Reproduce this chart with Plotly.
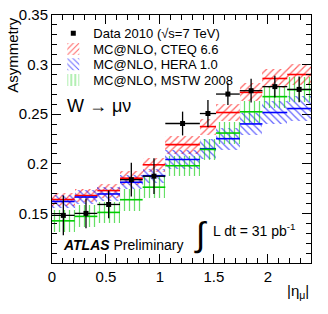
import plotly.graph_objects as go

# bin edges in |eta_mu|
edges = [0, 0.21, 0.42, 0.63, 0.84, 1.05, 1.37, 1.52, 1.74, 1.95, 2.18, 2.4]

data = [0.148, 0.150, 0.159, 0.184, 0.1875, 0.2406, 0.2507, 0.2703, 0.2737, 0.2778, 0.275]
data_err = [0.020, 0.015, 0.014, 0.017, 0.018, 0.012, 0.0135, 0.011, 0.012, 0.011, 0.013]

cteq = [0.164, 0.168, 0.173, 0.1855, 0.199, 0.2193, 0.2375, 0.2517, 0.272, 0.286, 0.290]
cteq_err = [0.007, 0.007, 0.007, 0.007, 0.007, 0.009, 0.008, 0.009, 0.009, 0.010, 0.0105]

hera = [0.162, 0.1665, 0.1696, 0.1814, 0.188, 0.2044, 0.2152, 0.2253, 0.2402, 0.2517, 0.2557]
hera_err = [0.007, 0.007, 0.007, 0.007, 0.007, 0.010, 0.010, 0.011, 0.011, 0.012, 0.0125]

mstw = [0.1425, 0.147, 0.151, 0.1638, 0.1764, 0.198, 0.2145, 0.231, 0.2524, 0.2677, 0.2747]
mstw_err = [0.011, 0.011, 0.011, 0.011, 0.011, 0.010, 0.011, 0.011, 0.011, 0.011, 0.0125]

centers = [(a + b) / 2 for a, b in zip(edges[:-1], edges[1:])]
widths = [b - a for a, b in zip(edges[:-1], edges[1:])]
halfw = [w / 2 for w in widths]

FONT = "Liberation Sans, Arial, sans-serif"

fig = go.Figure()

models = [
    ("MC@NLO, CTEQ 6.6", cteq, cteq_err, "#ff0000", "/", "legend2"),
    ("MC@NLO, HERA 1.0", hera, hera_err, "#0000ff", "\\", "legend3"),
    ("MC@NLO, MSTW 2008", mstw, mstw_err, "#00cc00", "|", "legend4"),
]

for name, vals, errs, col, shp, lg in models:
    fig.add_trace(go.Bar(
        x=centers, y=[2 * e for e in errs], base=[v - e for v, e in zip(vals, errs)],
        width=widths, name=name, legend=lg,
        marker=dict(color="rgba(0,0,0,0)", line=dict(width=0),
                    pattern=dict(shape=shp, fgcolor=col, fgopacity=0.6, size=5, solidity=0.25)),
        showlegend=True,
    ))

for name, vals, errs, col, shp, lg in models:
    fig.add_trace(go.Scatter(
        x=centers, y=vals, mode="markers", name=name, showlegend=False,
        marker=dict(size=0.1, color=col, opacity=0),
        error_x=dict(type="data", array=halfw, width=0, thickness=1.6, color=col),
    ))

fig.add_trace(go.Scatter(
    x=centers, y=data, mode="markers", name="Data 2010 (√s=7 TeV)", legend="legend",
    marker=dict(symbol="square", size=5, color="black"),
    error_x=dict(type="data", array=halfw, width=0, thickness=1.3, color="black"),
    error_y=dict(type="data", array=data_err, width=0, thickness=1.3, color="black"),
    showlegend=True,
))

leg_common = dict(x=0.005, xanchor="left", yanchor="middle", bgcolor="rgba(0,0,0,0)",
                  font=dict(size=13, family=FONT), itemwidth=30)

fig.update_layout(
    width=328, height=314,
    margin=dict(l=52, r=17, t=15, b=51, autoexpand=False),
    paper_bgcolor="white", plot_bgcolor="white",
    barmode="overlay", bargap=0,
    font=dict(family=FONT, size=15, color="black"),
    showlegend=True,
    legend=dict(y=0.926, **leg_common),
    legend2=dict(y=0.863, **leg_common),
    legend3=dict(y=0.801, **leg_common),
    legend4=dict(y=0.738, **leg_common),
)

fig.update_xaxes(range=[0, 2.4], tickvals=[0, 0.5, 1, 1.5, 2], ticktext=["0", "0.5", "1", "1.5", "2"],
                 ticks="inside", ticklen=9, tickcolor="black", showline=True, linecolor="black",
                 linewidth=1, mirror="ticks", showgrid=False, zeroline=False, automargin=False,
                 minor=dict(dtick=0.1, ticks="inside", ticklen=5, tickcolor="black"),
                 tickfont=dict(size=15))
fig.update_yaxes(range=[0.1, 0.35], tickvals=[0.15, 0.2, 0.25, 0.3, 0.35],
                 ticktext=["0.15", "0.2", "0.25", "0.3", "0.35"],
                 ticks="inside", ticklen=9, tickcolor="black", showline=True, linecolor="black",
                 linewidth=1, mirror="ticks", showgrid=False, zeroline=False, automargin=False,
                 minor=dict(dtick=0.01, ticks="inside", ticklen=5, tickcolor="black"),
                 tickfont=dict(size=15))

fig.add_annotation(text="Asymmetry", xref="paper", yref="paper", x=-0.155, y=1.0,
                   xanchor="center", yanchor="top", textangle=-90, showarrow=False,
                   font=dict(size=15))
fig.add_annotation(text="|η<sub>μ</sub>|", xref="paper", yref="paper", x=1.0, y=-0.115,
                   xanchor="right", yanchor="middle", showarrow=False, font=dict(size=15))
fig.add_annotation(text="W → μν", xref="paper", yref="paper", x=0.05, y=0.633,
                   xanchor="left", yanchor="middle", showarrow=False, font=dict(size=18))
fig.add_annotation(text="<b><i>ATLAS</i></b> Preliminary", xref="paper", yref="paper",
                   x=0.035, y=0.073, xanchor="left", yanchor="middle", showarrow=False,
                   font=dict(size=14))
fig.add_annotation(text="∫", xref="paper", yref="paper", x=0.605, y=0.115,
                   xanchor="right", yanchor="middle", showarrow=False,
                   font=dict(size=34, family="Liberation Sans"))
fig.add_annotation(text="L dt = 31 pb<sup>-1</sup>", xref="paper", yref="paper", x=0.615, y=0.135,
                   xanchor="left", yanchor="middle", showarrow=False, font=dict(size=14))

fig.write_html("out.html", config={"displayModeBar": False},
               post_script="document.body.style.margin='0';")
